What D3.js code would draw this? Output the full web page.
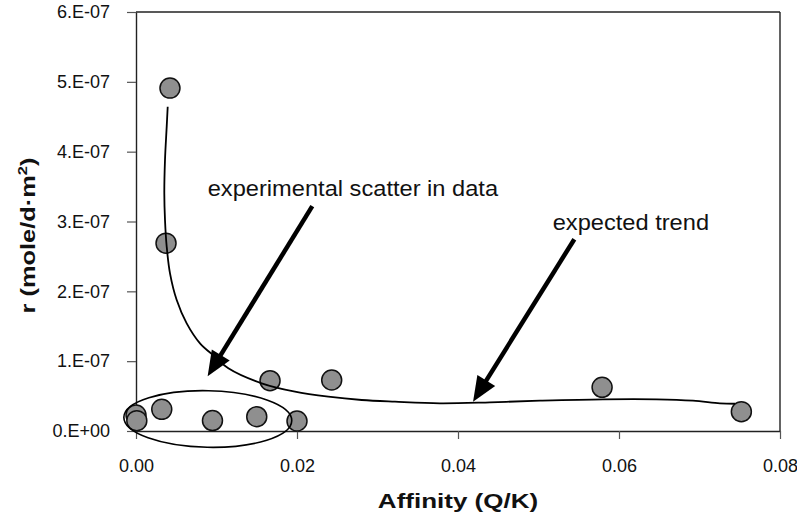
<!DOCTYPE html>
<html>
<head>
<meta charset="utf-8">
<script src="https://cdn.jsdelivr.net/npm/d3@7/dist/d3.min.js"></script>
<style>
  html, body { margin: 0; padding: 0; background: #fff; }
  svg { display: block; font-family: Arial, "Liberation Sans", sans-serif; }
</style>
</head>
<body>
<svg id="chart" width="797" height="520"></svg>
<script>
// Measured dissolution rate vs. affinity
const affinity = [0.00422, 0.00373, 0.0000, 0.0001, 0.0032, 0.0095, 0.0150, 0.0200, 0.01665, 0.02431, 0.0579, 0.0752];
const rate     = [4.91e-7, 2.69e-7, 2.29e-8, 1.48e-8, 3.1e-8, 1.5e-8, 2.05e-8, 1.43e-8, 7.2e-8, 7.3e-8, 6.26e-8, 2.77e-8];

// Hand-drawn "expected trend" curve (affinity, rate)
const trendX = [0.003938, 0.003814, 0.003602, 0.003516, 0.003602, 0.003814, 0.004224, 0.005056, 0.006298, 0.00795,
                0.009813, 0.01147, 0.01561, 0.01975, 0.02389, 0.02804, 0.03217, 0.03776, 0.04397, 0.05019,
                0.05801, 0.06468, 0.06919, 0.07254, 0.07441];
const trendY = [4.644e-7, 4.358e-7, 3.881e-7, 3.404e-7, 3.022e-7, 2.639e-7, 2.258e-7, 1.876e-7, 1.542e-7, 1.256e-7,
                1.064e-7, 8.98e-8, 6.83e-8, 5.63e-8, 4.91e-8, 4.44e-8, 4.20e-8, 3.97e-8, 4.11e-8, 4.34e-8,
                4.54e-8, 4.54e-8, 4.34e-8, 3.97e-8, 3.90e-8];

// Axis ticks
const xTickValues = [0, 0.02, 0.04, 0.06, 0.08];
const xTickLabels = ["0.00", "0.02", "0.04", "0.06", "0.08"];
const yTickValues = [0, 1e-7, 2e-7, 3e-7, 4e-7, 5e-7, 6e-7];
const yTickLabels = ["0.E+00", "1.E-07", "2.E-07", "3.E-07", "4.E-07", "5.E-07", "6.E-07"];

// Annotations (in data units)
const labelTexts = ["experimental scatter in data", "expected trend"];
const labelX = [0.008907, 0.05176];
const labelY = [3.37e-7, 2.878e-7];
const arrowFromX = [0.02190, 0.05445];
const arrowFromY = [3.22e-7, 2.746e-7];
const arrowToX = [0.00890, 0.04187];
const arrowToY = [7.85e-8, 4.2e-8];
const scatterCenter = [0.00892, 1.72e-8];
const scatterRadii = [0.01043, 4.05e-8];

const svg = d3.select("#chart");
const x = d3.scaleLinear().domain([0, 0.08]).range([136, 780]);
const y = d3.scaleLinear().domain([0, 6e-7]).range([431, 12]);

// Plot frame (top and right)
svg.append("line")
  .attr("x1", x(0)).attr("x2", x(0.08)).attr("y1", y(6e-7)).attr("y2", y(6e-7))
  .attr("stroke", "#222").attr("stroke-width", 1.4);
svg.append("line")
  .attr("x1", x(0.08)).attr("x2", x(0.08)).attr("y1", y(0)).attr("y2", y(6e-7))
  .attr("stroke", "#222").attr("stroke-width", 1.4);

// Axes
const gx = svg.append("g").attr("transform", `translate(0,${y(0)})`)
  .call(d3.axisBottom(x).tickValues(xTickValues).tickFormat((d, i) => xTickLabels[i])
    .tickSizeInner(8).tickSizeOuter(0).tickPadding(20));
const gy = svg.append("g").attr("transform", `translate(${x(0)},0)`)
  .call(d3.axisLeft(y).tickValues(yTickValues).tickFormat((d, i) => yTickLabels[i])
    .tickSizeInner(9).tickSizeOuter(0).tickPadding(17));
[gx, gy].forEach(g => {
  g.select(".domain").attr("stroke", "#222").attr("stroke-width", 1.4);
  g.selectAll(".tick line").attr("stroke", "#555").attr("stroke-width", 1.2);
  g.selectAll(".tick text").attr("fill", "#111").style("font-size", "18px")
    .style("font-family", "Arial, 'Liberation Sans', sans-serif");
});

// Axis titles
svg.append("text")
  .attr("transform", `translate(${(x(0) + x(0.08)) / 2},508) scale(1.3,1)`)
  .attr("text-anchor", "middle")
  .style("font-size", "20px").style("font-weight", "bold").attr("fill", "#111")
  .text("Affinity (Q/K)");

const yt = svg.append("text")
  .attr("transform", `translate(35,${(y(0) + y(6e-7)) / 2 + 14}) rotate(-90) scale(1.27,1)`)
  .attr("text-anchor", "middle")
  .style("font-size", "20px").style("font-weight", "bold").attr("fill", "#111");
yt.append("tspan").text("r (mole/d\u00B7m");
yt.append("tspan").attr("dy", -8).style("font-size", "13px").text("2");
yt.append("tspan").attr("dy", 8).text(")");

// Data points
const pts = affinity.map((a, i) => ({ a, r: rate[i] }));
svg.append("g").selectAll("circle").data(pts).join("circle")
  .attr("cx", d => x(d.a)).attr("cy", d => y(d.r)).attr("r", 10)
  .attr("fill", "#8f8f8f").attr("stroke", "#111").attr("stroke-width", 1.5);

// Expected trend curve
const trend = trendX.map((t, i) => [t, trendY[i]]);
svg.append("path")
  .datum(trend)
  .attr("d", d3.line().x(d => x(d[0])).y(d => y(d[1])).curve(d3.curveCatmullRom.alpha(0.5)))
  .attr("fill", "none").attr("stroke", "#000").attr("stroke-width", 1.8);

// Ellipse around the scattered low-affinity points
const ecx = x(scatterCenter[0]), ecy = y(scatterCenter[1]);
svg.append("ellipse")
  .attr("cx", ecx).attr("cy", ecy)
  .attr("rx", x(scatterRadii[0]) - x(0)).attr("ry", y(0) - y(scatterRadii[1]))
  .attr("transform", `rotate(1.2,${ecx},${ecy})`)
  .attr("fill", "none").attr("stroke", "#000").attr("stroke-width", 1.6);

// Arrows
const headLen = 25, headHalf = 10.5;
labelTexts.forEach((t, i) => {
  const x1 = x(arrowFromX[i]), y1 = y(arrowFromY[i]);
  const x2 = x(arrowToX[i]), y2 = y(arrowToY[i]);
  const dx = x2 - x1, dy = y2 - y1, len = Math.hypot(dx, dy);
  const ux = dx / len, uy = dy / len;
  const bx = x2 - ux * headLen, by = y2 - uy * headLen;
  svg.append("line")
    .attr("x1", x1).attr("y1", y1).attr("x2", bx + ux * 2).attr("y2", by + uy * 2)
    .attr("stroke", "#000").attr("stroke-width", 4.5);
  svg.append("polygon")
    .attr("points", [[x2, y2], [bx - uy * headHalf, by + ux * headHalf], [bx + uy * headHalf, by - ux * headHalf]]
      .map(p => p.join(",")).join(" "))
    .attr("fill", "#000");
  svg.append("text")
    .attr("transform", `translate(${x(labelX[i])},${y(labelY[i])}) scale(1.075,1)`)
    .style("font-size", "22px").attr("fill", "#111")
    .text(t);
});
</script>
</body>
</html>
